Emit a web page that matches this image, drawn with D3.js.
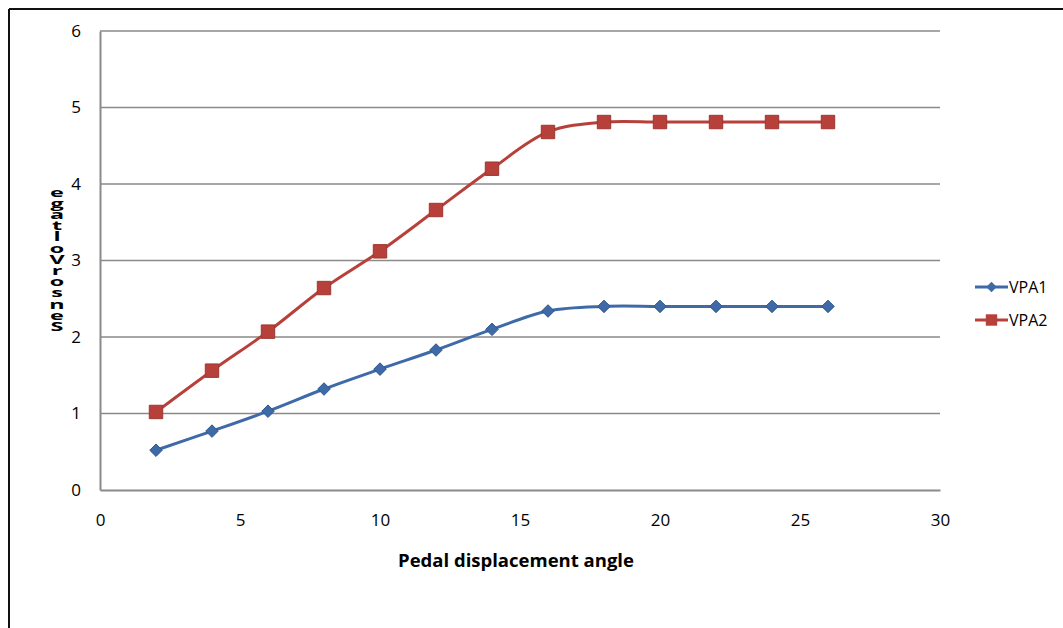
<!DOCTYPE html>
<html>
<head>
<meta charset="utf-8">
<script src="https://cdn.jsdelivr.net/npm/d3@7"></script>
<style>
  body { margin: 0; background: #fff; }
  text { font-family: "Open Sans", sans-serif; }
</style>
</head>
<body>
<script>
// values
const angles = [2, 4, 6, 8, 10, 12, 14, 16, 18, 20, 22, 24, 26];
const vpa1 = [0.52, 0.77, 1.03, 1.32, 1.58, 1.83, 2.1, 2.34, 2.4, 2.4, 2.4, 2.4, 2.4];
const vpa2 = [1.02, 1.56, 2.07, 2.64, 3.12, 3.66, 4.2, 4.68, 4.81, 4.81, 4.81, 4.81, 4.81];
const xTicks = [0, 5, 10, 15, 20, 25, 30];
const yTicks = [0, 1, 2, 3, 4, 5, 6];
const seriesNames = ['VPA1', 'VPA2'];
const yLabel = 'SensorVoltage';
const xLabel = 'Pedal displacement angle';

const W = 1063, H = 628;
const plot = { left: 100, right: 940, top: 31, bottom: 490 };

const svg = d3.select('body').append('svg')
  .attr('width', W)
  .attr('height', H);

// outer frame (only top and left edges show in the scan)
svg.append('line').attr('x1', 9).attr('x2', W).attr('y1', 9).attr('y2', 9)
  .attr('stroke', '#111').attr('stroke-width', 2);
svg.append('line').attr('x1', 9).attr('x2', 9).attr('y1', 9).attr('y2', H)
  .attr('stroke', '#111').attr('stroke-width', 2);

const x = d3.scaleLinear().domain([0, 30]).range([plot.left, plot.right]);
const y = d3.scaleLinear().domain([0, 6]).range([plot.bottom, plot.top]);

// gridlines
svg.append('g')
  .selectAll('line')
  .data(yTicks.slice(1))
  .enter()
  .append('line')
  .attr('x1', plot.left)
  .attr('x2', plot.right)
  .attr('y1', d => y(d))
  .attr('y2', d => y(d))
  .attr('stroke', '#8a8a8a')
  .attr('stroke-width', 1.5);

const xAxis = svg.append('g')
  .attr('transform', `translate(0,${plot.bottom})`)
  .call(d3.axisBottom(x).tickValues(xTicks).tickFormat(d3.format('d')).tickSize(0).tickPadding(24));
const yAxis = svg.append('g')
  .attr('transform', `translate(${plot.left},0)`)
  .call(d3.axisLeft(y).tickValues(yTicks).tickFormat(d3.format('d')).tickSize(0).tickPadding(19));

[xAxis, yAxis].forEach(a => {
  a.select('.domain').attr('stroke', '#8a8a8a').attr('stroke-width', 2);
  a.selectAll('text')
    .attr('font-family', '"Open Sans", sans-serif')
    .attr('font-size', 17)
    .attr('fill', '#000');
});

// stacked y label: one text, letters upright and squat, read bottom to top
const yl = svg.append('text')
  .attr('transform', 'translate(57,0) scale(1.3,0.66)')
  .attr('text-anchor', 'middle')
  .attr('font-size', 18)
  .attr('font-weight', 'bold')
  .attr('fill', '#000');
yl.selectAll('tspan')
  .data(yLabel.split(''))
  .enter()
  .append('tspan')
  .attr('x', 0)
  .attr('y', (d, i) => (331 - i * 11.2) / 0.66)
  .text(d => d);

svg.append('text')
  .attr('x', 516)
  .attr('y', 567)
  .attr('text-anchor', 'middle')
  .attr('font-size', 18.5)
  .attr('font-weight', 'bold')
  .attr('fill', '#000')
  .text(xLabel);

const colors = ['#3f6aa8', '#b8403a'];
const line = d3.line()
  .x(d => x(d[0]))
  .y(d => y(d[1]))
  .curve(d3.curveCatmullRom.alpha(0.5));

const series = [vpa1, vpa2].map(vals => angles.map((a, i) => [a, vals[i]]));

series.forEach((pts, k) => {
  svg.append('path')
    .datum(pts)
    .attr('d', line)
    .attr('fill', 'none')
    .attr('stroke', colors[k])
    .attr('stroke-width', 3);

  const sym = d3.symbol()
    .type(k === 0 ? d3.symbolDiamond2 : d3.symbolSquare)
    .size(k === 0 ? 100 : 180);

  svg.append('g')
    .selectAll('path')
    .data(pts)
    .enter()
    .append('path')
    .attr('transform', d => `translate(${x(d[0])},${y(d[1])})`)
    .attr('d', sym)
    .attr('fill', colors[k])
    .attr('stroke', k === 0 ? '#2f558f' : '#9e3530')
    .attr('stroke-width', 1);
});

// legend
const legend = svg.append('g');
seriesNames.forEach((name, k) => {
  const ly = 287 + k * 33;
  legend.append('line')
    .attr('x1', 975).attr('x2', 1008)
    .attr('y1', ly).attr('y2', ly)
    .attr('stroke', colors[k]).attr('stroke-width', 3);
  legend.append('path')
    .attr('transform', `translate(991.5,${ly})`)
    .attr('d', d3.symbol().type(k === 0 ? d3.symbolDiamond2 : d3.symbolSquare).size(k === 0 ? 70 : 130))
    .attr('fill', colors[k]);
  legend.append('text')
    .attr('x', 1009)
    .attr('y', ly + 6)
    .attr('font-size', 16)
    .attr('fill', '#000')
    .text(name);
});
</script>
</body>
</html>
